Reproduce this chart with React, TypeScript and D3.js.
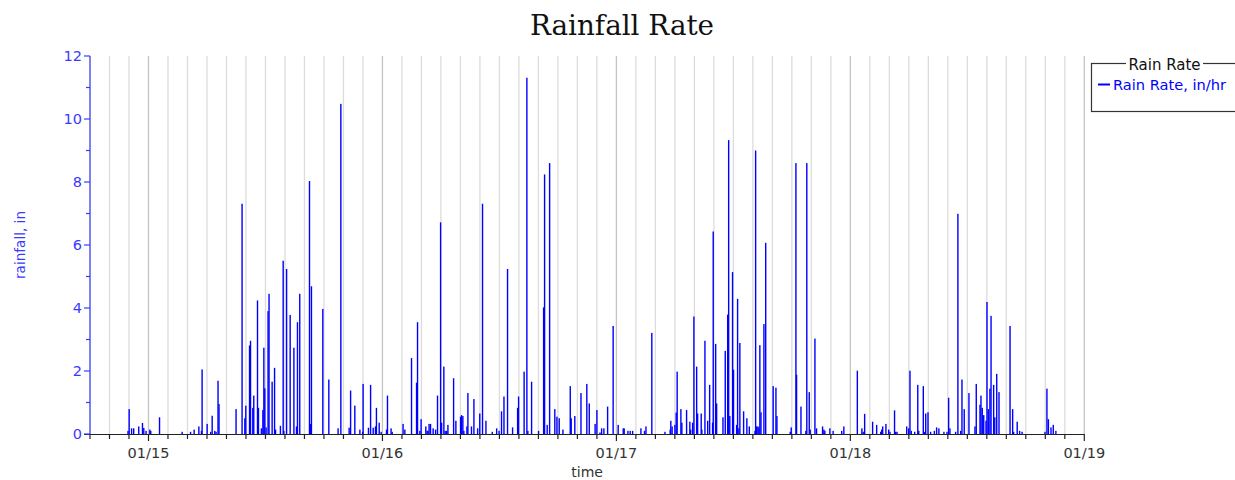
import React from "react";
import * as d3 from "d3";

// Rain rate readings (in/hr), hour-of-day for each calendar day
const jan14Hours = [21.9, 22.01, 22.26, 22.49, 23.0, 23.38, 23.52, 23.75];
const jan14Rates = [0.1, 0.79, 0.18, 0.18, 0.24, 0.35, 0.19, 0.1];

const jan15Hours = [0.13, 0.24, 1.13, 3.45, 4.31, 4.68, 5.16, 5.44, 5.5, 6.01, 6.39, 6.53, 6.8, 6.94, 7.14, 7.24, 8.99, 9.6, 9.88, 9.98, 10.36, 10.47, 10.7, 10.8, 11.18, 11.29, 11.59, 11.73, 11.83, 11.93, 12.07, 12.27, 12.37, 12.68, 12.93, 13.03, 13.54, 13.81, 13.88, 14.16, 14.53, 14.91, 15.19, 15.29, 15.52, 16.52, 16.62, 16.72, 17.88, 18.5, 19.45, 19.73, 20.58, 20.73, 21.17, 21.68, 21.96, 22.02, 22.57, 22.78, 23.05, 23.29, 23.39, 23.66, 23.87];
const jan15Rates = [0.14, 0.1, 0.53, 0.07, 0.07, 0.14, 0.24, 0.1, 2.05, 0.32, 0.07, 0.58, 0.1, 0.07, 1.69, 0.95, 0.79, 7.31, 0.5, 0.9, 2.81, 2.96, 0.83, 1.22, 4.24, 0.83, 0.18, 0.76, 2.74, 1.45, 0.21, 3.9, 4.45, 1.66, 2.1, 0.14, 0.26, 5.5, 0.1, 5.24, 3.78, 2.74, 0.24, 3.55, 4.45, 8.03, 0.32, 4.69, 3.97, 1.73, 0.18, 10.48, 0.2, 1.38, 0.9, 0.14, 0.07, 1.59, 0.2, 1.56, 0.2, 0.24, 0.83, 0.36, 0.07];

const jan16Hours = [0.42, 0.52, 0.89, 1.0, 2.12, 2.3, 2.99, 3.5, 3.6, 3.84, 3.97, 4.45, 4.59, 4.66, 4.79, 4.93, 5.2, 5.45, 5.65, 5.96, 6.06, 6.3, 6.43, 6.58, 6.71, 7.3, 7.53, 8.01, 8.12, 8.25, 8.35, 8.66, 8.76, 9.14, 9.38, 9.76, 9.99, 10.27, 10.61, 11.26, 11.71, 11.97, 12.22, 12.46, 12.84, 13.35, 13.86, 13.96, 14.54, 14.82, 14.92, 15.3, 16.02, 16.53, 16.63, 16.9, 17.15, 17.69, 17.9, 18.13, 18.51, 19.26, 19.36, 19.74, 20.36, 20.97, 21.21, 21.82, 22.0, 22.31, 22.48, 22.72, 23.1, 23.67];
const jan16Rates = [0.14, 1.22, 0.18, 0.07, 0.32, 0.14, 2.41, 1.63, 3.55, 0.1, 0.47, 0.24, 0.1, 0.1, 0.32, 0.32, 0.18, 0.14, 1.22, 6.72, 0.36, 2.14, 0.1, 0.1, 0.29, 1.77, 0.42, 0.55, 0.6, 0.57, 0.1, 0.24, 1.3, 0.24, 1.11, 0.18, 0.65, 7.31, 0.42, 0.07, 0.18, 0.1, 0.72, 1.19, 5.24, 0.21, 0.83, 1.19, 1.98, 11.31, 0.1, 1.66, 0.1, 4.02, 8.24, 0.29, 8.6, 0.79, 0.55, 0.5, 0.14, 1.52, 0.5, 0.57, 1.3, 1.59, 0.97, 0.32, 0.76, 0.05, 0.18, 0.18, 0.87, 3.43];

const jan17Hours = [0.18, 0.7, 0.8, 1.18, 1.42, 1.66, 2.51, 2.89, 3.03, 3.64, 4.98, 5.52, 5.59, 5.72, 6.0, 6.13, 6.24, 6.62, 6.72, 7.2, 7.54, 7.61, 7.82, 7.95, 8.23, 8.33, 8.7, 8.77, 9.08, 9.36, 9.56, 9.87, 9.93, 10.18, 10.28, 10.93, 11.16, 11.41, 11.51, 11.64, 11.92, 12.02, 12.33, 12.44, 12.57, 12.67, 13.05, 13.39, 13.63, 14.21, 14.28, 14.38, 14.52, 14.62, 14.72, 14.83, 15.14, 15.31, 16.09, 16.37, 16.47, 17.83, 17.94, 18.42, 18.49, 18.93, 19.44, 19.54, 19.78, 19.88, 20.36, 20.54, 21.15, 21.29, 21.39, 21.9, 22.24, 23.11, 23.34];
const jan17Rates = [0.29, 0.18, 0.18, 0.1, 0.1, 0.1, 0.18, 0.1, 0.24, 3.21, 0.07, 0.14, 0.42, 0.24, 0.29, 0.68, 1.98, 0.79, 0.36, 0.76, 0.39, 0.14, 0.36, 3.73, 2.14, 0.65, 0.65, 0.14, 2.96, 0.42, 1.56, 0.36, 6.43, 2.86, 0.97, 0.53, 2.64, 3.79, 9.33, 0.57, 5.14, 2.04, 0.29, 4.29, 0.18, 2.89, 0.72, 0.5, 0.24, 0.1, 9.0, 0.24, 0.24, 0.21, 2.82, 0.69, 3.49, 6.07, 1.52, 1.47, 0.57, 0.07, 0.21, 8.6, 1.88, 0.87, 0.1, 8.6, 1.33, 0.14, 3.03, 0.18, 0.24, 0.14, 0.1, 0.18, 0.1, 0.1, 0.24];

const jan18Hours = [0.71, 1.19, 1.32, 1.46, 2.29, 2.7, 3.11, 3.21, 3.31, 3.65, 3.93, 4.06, 4.54, 4.65, 4.78, 5.78, 5.98, 6.12, 6.25, 6.6, 6.91, 7.01, 7.48, 7.59, 7.73, 7.96, 8.24, 8.61, 8.85, 9.09, 9.6, 9.91, 10.08, 10.21, 10.8, 11.04, 11.31, 11.45, 11.69, 12.17, 12.79, 12.92, 13.3, 13.4, 13.53, 13.68, 13.91, 14.01, 14.15, 14.32, 14.43, 14.7, 14.81, 15.01, 15.25, 16.38, 16.65, 16.75, 17.12, 17.37, 17.61, 19.97, 20.17, 20.31, 20.58, 20.82, 21.09];
const jan18Rates = [2.01, 0.18, 0.07, 0.64, 0.39, 0.29, 0.07, 0.14, 0.24, 0.32, 0.14, 0.07, 0.75, 0.07, 0.07, 0.24, 0.18, 2.01, 0.1, 0.07, 1.56, 0.1, 1.52, 0.07, 0.65, 0.69, 0.07, 0.1, 0.21, 0.18, 0.07, 0.07, 1.15, 0.18, 0.07, 6.99, 0.1, 1.73, 0.79, 1.3, 0.24, 1.59, 0.93, 1.22, 0.83, 0.6, 0.42, 4.19, 0.79, 1.44, 3.75, 1.56, 0.53, 1.91, 1.33, 3.43, 0.79, 0.07, 0.39, 0.1, 0.07, 0.07, 1.44, 0.47, 0.21, 0.29, 0.1];

const yTicks = [0, 2, 4, 6, 8, 10, 12];
const title = "Rainfall Rate";
const legendTitle = "Rain Rate";
const seriesName = "Rain Rate, in/hr";
const xLabel = "time";
const yLabel = "rainfall, in";

const days: [number, number[], number[]][] = [
  [14, jan14Hours, jan14Rates],
  [15, jan15Hours, jan15Rates],
  [16, jan16Hours, jan16Rates],
  [17, jan17Hours, jan17Rates],
  [18, jan18Hours, jan18Rates],
];

const points = days.flatMap(([day, hours, rates]) =>
  hours.map((h, i) => ({
    t: new Date(2024, 0, day, 0, Math.round(h * 60)),
    v: rates[i],
  }))
);

const W = 1235;
const H = 480;
const left = 90;
const right = 1084.3;
const top = 56;
const bottom = 434;

const x = d3
  .scaleTime()
  .domain([new Date(2024, 0, 14, 18), new Date(2024, 0, 19, 0)])
  .range([left, right]);
const y = d3.scaleLinear().domain([0, 12]).range([bottom, top]);

const gridTimes = d3.timeHour.every(2)!.range(x.domain()[0], d3.timeMinute.offset(x.domain()[1], 1));
const minorY = d3.range(1, 12, 2);
const fmt = d3.timeFormat("%m/%d");
const BLUE = "#0000ff";
const AXIS_BLUE = "#3a3aff";
const FONT = "DejaVu Sans, sans-serif";

export default function App() {
  return (
    <svg width={W} height={H} style={{ position: "absolute", left: 0, top: 0, background: "#fff" }}>
      <rect x={0} y={0} width={W} height={H} fill="#fff" />
      <text x={622} y={35} textAnchor="middle" fontFamily="DejaVu Serif, serif" fontSize={27.8} fill="#111">
        {title}
      </text>
      {/* grid */}
      {gridTimes.map((t, i) => {
        const major = t.getHours() === 0;
        return (
          <line key={"g" + i} x1={x(t)} x2={x(t)} y1={top} y2={bottom} stroke={major ? "#c4c4c4" : "#dcdcdc"} strokeWidth={1.3} />
        );
      })}
      {/* bars */}
      {points.map((p, i) => (
        <rect key={"b" + i} x={x(p.t) - 0.7} width={1.4} y={y(p.v)} height={y(0) - y(p.v)} fill={BLUE} />
      ))}
      {/* x axis */}
      <line x1={left - 6} x2={right} y1={bottom + 0.5} y2={bottom + 0.5} stroke="#222" strokeWidth={1.2} />
      {gridTimes.map((t, i) => {
        const major = t.getHours() === 0;
        return (
          <line key={"xt" + i} x1={x(t)} x2={x(t)} y1={bottom} y2={bottom + (major ? 7 : 5)} stroke="#222" strokeWidth={1.2} />
        );
      })}
      {gridTimes
        .filter((t) => t.getHours() === 0)
        .map((t, i) => (
          <text key={"xl" + i} x={x(t)} y={458} textAnchor="middle" fontFamily={FONT} fontSize={14.5} fill="#333">
            {fmt(t)}
          </text>
        ))}
      <text x={(left + right) / 2} y={477} textAnchor="middle" fontFamily={FONT} fontSize={14} fill="#333">
        {xLabel}
      </text>
      {/* y axis */}
      <line x1={left} x2={left} y1={top} y2={bottom} stroke={AXIS_BLUE} strokeWidth={1.2} />
      {yTicks.map((v) => (
        <g key={"yt" + v}>
          <line x1={left - 6} x2={left} y1={y(v)} y2={y(v)} stroke={AXIS_BLUE} strokeWidth={1.2} />
          <text x={82} y={y(v)} dy="0.36em" textAnchor="end" fontFamily={FONT} fontSize={14.5} fill={AXIS_BLUE}>
            {v}
          </text>
        </g>
      ))}
      {minorY.map((v) => (
        <line key={"ym" + v} x1={left - 4} x2={left} y1={y(v)} y2={y(v)} stroke={AXIS_BLUE} strokeWidth={1.2} />
      ))}
      <text
        transform={`translate(20,${(top + bottom) / 2}) rotate(-90)`}
        dy="0.36em"
        textAnchor="middle"
        fontFamily={FONT}
        fontSize={13.6}
        fill={AXIS_BLUE}
      >
        {yLabel}
      </text>
      {/* legend */}
      <rect x={1091.5} y={63.5} width={170} height={48} fill="#fff" stroke="#333" strokeWidth={1.2} />
      <rect x={1126} y={58} width={77} height={10} fill="#fff" />
      <text x={1164.5} y={70} textAnchor="middle" fontFamily={FONT} fontSize={15} fill="#111">
        {legendTitle}
      </text>
      <line x1={1098} x2={1110} y1={84.5} y2={84.5} stroke={BLUE} strokeWidth={2} />
      <text x={1113} y={90} fontFamily={FONT} fontSize={14.6} fill={BLUE}>
        {seriesName}
      </text>
    </svg>
  );
}
